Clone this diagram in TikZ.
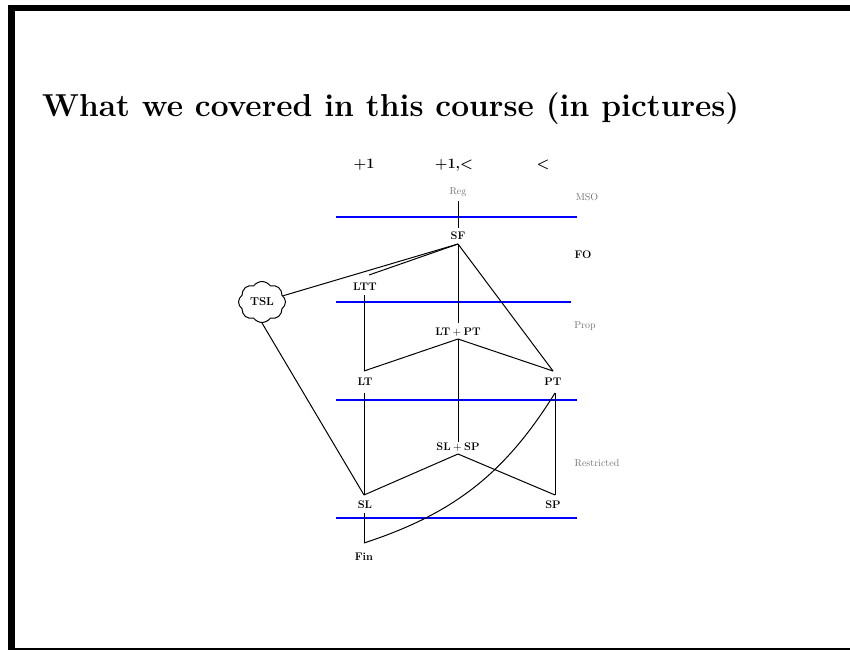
\documentclass[tikz,border=0pt]{standalone}
\usetikzlibrary{shapes.symbols}
\begin{document}
\begin{tikzpicture}[x=1pt,y=-1pt,
  lbl/.style={font=\fontsize{11}{13}\selectfont\bfseries, inner sep=0pt},
  glbl/.style={font=\fontsize{10}{12}\selectfont, text=black!55, inner sep=0pt},
  hdr/.style={font=\fontsize{14.5}{17}\selectfont\bfseries, inner sep=0pt},
  sepline/.style={blue, line width=2.5pt},
  edge/.style={black, line width=1pt},
  framebar/.style={fill=black}]
\useasboundingbox (0,0) rectangle (850,650);
% frame
\fill[framebar] (8,5) rectangle (15,650);
\fill[framebar] (8,5) rectangle (850,11);
\draw[line width=1.5pt] (8,649) -- (850,649);
% title
\node[anchor=base west, inner sep=0pt, font=\fontsize{31.7}{38}\selectfont\bfseries] (title) at (42,117) {What we covered in this course (in pictures)};
% headers
\node[hdr] (hA) at (364,165) {+1};
\node[hdr] (hB) at (454,165) {+1,<};
\node[hdr] (hC) at (543,165) {<};
% level labels
\node[glbl] (Reg) at (458,192) {Reg};
\node[glbl] (MSO) at (587,197) {MSO};
\node[lbl] (FO) at (583,255) {FO};
\node[glbl] (Prop) at (585,326) {Prop};
\node[glbl] (Restr) at (597,463) {Restricted};
% separators
\coordinate (s1a) at (336,217); \coordinate (s1b) at (577,217);
\coordinate (s2a) at (336,302); \coordinate (s2b) at (571,302);
\coordinate (s3a) at (336,400); \coordinate (s3b) at (577,400);
\coordinate (s4a) at (336,518); \coordinate (s4b) at (577,518);
\draw[sepline] (s1a) -- (s1b);
\draw[sepline] (s2a) -- (s2b);
\draw[sepline] (s3a) -- (s3b);
\draw[sepline] (s4a) -- (s4b);
% class nodes
\node[lbl] (SF) at (458,236) {SF};
\node[lbl] (LTT) at (365,287) {LTT};
\node[draw, cloud, cloud puffs=8, cloud puff arc=110, aspect=1.15, minimum width=47pt, minimum height=41pt, inner sep=0pt, line width=1pt, font=\fontsize{11.5}{13}\selectfont\bfseries] (TSL) at (262,302) {TSL};
\node[lbl] (LTPT) at (458,332) {LT${}+{}$PT};
\node[lbl] (LT) at (365,382) {LT};
\node[lbl] (PT) at (553,382) {PT};
\node[lbl] (SLSP) at (458,447) {SL${}+{}$SP};
\node[lbl] (SL) at (365,505) {SL};
\node[lbl] (SP) at (553,505) {SP};
\node[lbl] (Fin) at (364,557) {Fin};
% connection points
\coordinate (Regb) at (458,201);
\coordinate (SFt) at (458,228);
\coordinate (SFb) at (458,244);
\coordinate (LTTt) at (369,275);
\coordinate (LTTb) at (364,295);
\coordinate (LTPTt) at (458,323);
\coordinate (LTPTb) at (458,339);
\coordinate (LTt) at (364,371);
\coordinate (LTb) at (364,393);
\coordinate (PTt) at (553,371);
\coordinate (PTb) at (555,393);
\coordinate (SLSPt) at (458,442);
\coordinate (SLSPb) at (458,454);
\coordinate (SLt) at (364,495);
\coordinate (SLb) at (364,513);
\coordinate (SPt) at (555,495);
\coordinate (Fint) at (364,543);
% connectors
\draw[edge] (Regb) -- (SFt);
\draw[edge] (SFb) -- (TSL);
\draw[edge] (SFb) -- (LTTt);
\draw[edge] (SFb) -- (LTPTt);
\draw[edge] (SFb) -- (PTt);
\draw[edge] (LTTb) -- (LTt);
\draw[edge] (LTPTb) -- (LTt);
\draw[edge] (LTPTb) -- (PTt);
\draw[edge] (LTPTb) -- (SLSPt);
\draw[edge] (LTb) -- (SLt);
\draw[edge] (PTb) -- (SPt);
\draw[edge] (TSL.south) -- (SLt);
\draw[edge] (SLSPb) -- (SLt);
\draw[edge] (SLSPb) -- (SPt);
\draw[edge] (SLb) -- (Fint);
\draw[edge] (Fint) to[bend right=20] (PTb);
\end{tikzpicture}
\end{document}
